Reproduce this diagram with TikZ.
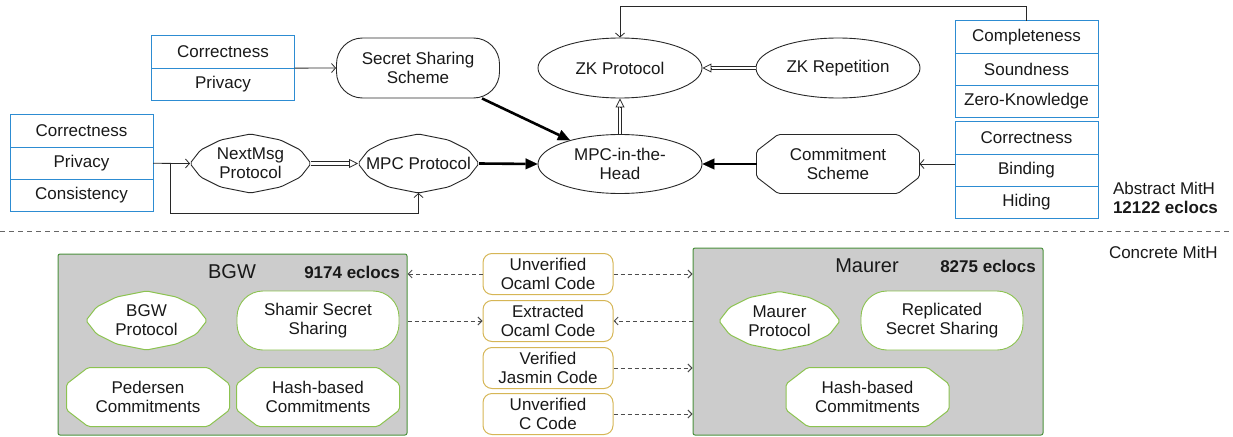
\documentclass[tikz,border=0pt]{standalone}
\usepackage{fontspec}
\setmainfont{Liberation Sans}
\usepackage{tikz}
\usetikzlibrary{arrows.meta}
\usetikzlibrary{shapes.geometric}
\usetikzlibrary{positioning}

\definecolor{propblue}{RGB}{45,140,210}
\definecolor{boxgreen}{RGB}{75,145,60}
\definecolor{leafgreen}{RGB}{140,195,80}
\definecolor{codegold}{RGB}{214,182,86}
\definecolor{boxgray}{RGB}{204,204,204}
\definecolor{inkgray}{RGB}{40,40,40}

\tikzset{
  prop/.style={draw=propblue, line width=1pt, minimum width=143pt, minimum height=32.3pt, inner sep=0pt, outer sep=0pt},
  ell/.style={ellipse, draw=inkgray, line width=0.9pt, minimum width=164pt, minimum height=60pt, inner sep=0pt, align=center},
  stad/.style={draw=inkgray, fill=white, line width=0.9pt, rounded corners=26pt, minimum width=163pt, minimum height=60pt, inner sep=0pt, align=center},
  plain/.style={inner sep=0pt, outer sep=0pt, align=center},
  darkline/.style={draw=inkgray, fill=white, line width=0.9pt, rounded corners=2pt},
  leafline/.style={draw=leafgreen, fill=white, line width=1pt, rounded corners=2pt},
  codebox/.style={draw=codegold, fill=white, line width=1pt, rounded corners=9pt, minimum width=130pt, minimum height=41pt, inner sep=0pt, align=center},
  implbox/.style={draw=boxgreen, fill=boxgray, line width=1pt, rounded corners=2pt, inner sep=0pt},
  implname/.style={plain, font=\fontsize{20}{22}\selectfont},
  locs/.style={plain, font=\fontsize{17}{19}\selectfont\bfseries},
  arr/.style={draw=inkgray, line width=0.8pt, -{Straight Barb[length=4pt,width=9pt]}},
  heavy/.style={draw=black, line width=2.6pt, -{Triangle[length=12pt,width=11pt,line width=0.1pt]}},
  dbl/.style={draw=inkgray, double, double distance=2.4pt, line width=0.9pt, shorten >=8.5pt},
  opentip/.style={draw=inkgray, line width=0.8pt, -{Triangle[open,length=9pt,width=9pt]}},
  dasharr/.style={draw=black!70, line width=0.9pt, dash pattern=on 4pt off 3pt, -{Straight Barb[length=4pt,width=8pt]}},
}

% diamond-like and chamfered outlines, drawn before the (invisible) node
\newcommand{\dianode}[4][darkline]{%
  \filldraw[#1, shift={(#3)}] (-60.5,0) -- (-50,-13.5) -- (-30,-23.5) -- (0,-29.5) -- (30,-23.5) -- (50,-13.5) -- (60.5,0)
     -- (50,13.5) -- (30,23.5) -- (0,29.5) -- (-30,23.5) -- (-50,13.5) -- cycle;
  \node[plain, minimum width=121pt, minimum height=59pt] (#2) at (#3) {#4};}
\newcommand{\octnode}[4][darkline]{%
  \filldraw[#1, shift={(#3)}] (-81.5,-13) -- (-60,-29.5) -- (60,-29.5) -- (81.5,-13) -- (81.5,13) -- (60,29.5) -- (-60,29.5) -- (-81.5,13) -- cycle;
  \node[plain, minimum width=163pt, minimum height=59pt] (#2) at (#3) {#4};}

\begin{document}
\begin{tikzpicture}[x=1pt, y=-1pt, font=\fontsize{17}{19}\selectfont, every node/.style={text=black!90}]
    \useasboundingbox (0,0) rectangle (1233,436);

    % abstract part
    \node[prop] (sscor) at (223,52) {Correctness};
    \node[prop, below=0pt of sscor] (sspriv) {Privacy};
    \node[stad] (sss) at (418,68) {Secret Sharing\\Scheme};

    \node[prop] (mcor) at (81.5,131) {Correctness};
    \node[prop, below=0pt of mcor] (mpriv) {Privacy};
    \node[prop, below=0pt of mpriv] (mcons) {Consistency};
    \dianode{nextmsg}{250.5,163.5}{NextMsg\\Protocol}
    \dianode{mpcp}{418.5,163.5}{MPC Protocol}

    \node[ell] (zkp) at (620,68) {ZK Protocol};
    \node[ell] (zkrep) at (838,68) {ZK Repetition};
    \node[ell, minimum height=59pt] (mpcith) at (620,164) {MPC-in-the-\\Head};
    \octnode{commit}{838,164}{Commitment\\Scheme}

    \node[prop] (zkcomp) at (1026.5,37) {Completeness};
    \node[prop, below=0pt of zkcomp] (zksound) {Soundness};
    \node[prop, below=0pt of zksound] (zkzero) {Zero-Knowledge};
    \node[prop] (cmcor) at (1026.5,138) {Correctness};
    \node[prop, below=0pt of cmcor] (cmbind) {Binding};
    \node[prop, below=0pt of cmbind] (cmhid) {Hiding};

    \node[plain, anchor=west, align=left] (abstract) at (1113,198) {Abstract MitH\\\textbf{12122 eclocs}};

    \coordinate (split) at (170,163.5);
    \draw[arr] (sscor.south east) -- (sss.west);
    \draw[arr] (mpriv.east) -- (nextmsg.west);
    \draw[arr] (split) |- ([yshift=-20pt]mpcp.south) -- (mpcp.south);
    \draw[dbl] (nextmsg.east) -- (mpcp.west);
    \draw[opentip] ([xshift=-9pt]mpcp.west) -- (mpcp.west);
    \draw[heavy] (mpcp.east) -- (mpcith.west);
    \draw[heavy] (sss) -- (mpcith);
    \draw[heavy] (commit.west) -- (mpcith.east);
    \draw[arr] (commit.east -| cmbind.west) -- (commit.east);
    \draw[dbl] (zkrep.west) -- (zkp.east);
    \draw[opentip] ([xshift=9pt]zkp.east) -- (zkp.east);
    \draw[dbl] (mpcith.north) -- (zkp.south);
    \draw[opentip] ([yshift=-9pt]zkp.south) -- (zkp.south);
    \draw[arr] (zkcomp.north) -- ++(0,-14) -| (zkp.north);

    \draw[black!60, line width=1pt, dash pattern=on 5pt off 4pt] (0,231) -- (1233,231);

    % concrete part
    \node[plain, anchor=west] (concrete) at (1109,252) {Concrete MitH};

    \node[implbox, minimum width=349pt, minimum height=181pt] (bgw) at (232.5,344.5) {};
    \node[implname] (bgwname) at (232,272) {BGW};
    \node[locs] (bgwloc) at (352,272) {9174 eclocs};
    \dianode[leafline]{bgwp}{146.5,320.5}{BGW\\Protocol}
    \node[stad, draw=leafgreen, minimum width=162pt, minimum height=59pt] (shamir) at (318,320.5) {Shamir Secret\\Sharing};
    \octnode[leafline]{pedersen}{148,397}{Pedersen\\Commitments}
    \octnode[leafline]{hashbgw}{318,397}{Hash-based\\Commitments}

    \node[implbox, minimum width=350pt, minimum height=187pt] (maurer) at (868,341.5) {};
    \node[implname] (maurername) at (867,266) {Maurer};
    \node[locs] (maurerloc) at (988,266) {8275 eclocs};
    \dianode[leafline]{maurerp}{779.5,321}{Maurer\\Protocol}
    \node[stad, draw=leafgreen, minimum width=162pt, minimum height=59pt] (replic) at (942,320.5) {Replicated\\Secret Sharing};
    \octnode[leafline]{hashm}{867.5,397}{Hash-based\\Commitments}

    \node[codebox] (uocaml) at (548,274) {Unverified\\Ocaml Code};
    \node[codebox] (eocaml) at (548,321) {Extracted\\Ocaml Code};
    \node[codebox] (jasmin) at (548,368) {Verified\\Jasmin Code};
    \node[codebox] (ccode) at (548,414) {Unverified\\C Code};

    \draw[dasharr] (uocaml.west) -- (uocaml.west -| bgw.east);
    \draw[dasharr] (uocaml.east) -- (uocaml.east -| maurer.west);
    \draw[dasharr] (eocaml.west -| bgw.east) -- (eocaml.west);
    \draw[dasharr] (eocaml.east -| maurer.west) -- (eocaml.east);
    \draw[dasharr] (jasmin.east) -- (jasmin.east -| maurer.west);
    \draw[dasharr] (ccode.east) -- (ccode.east -| maurer.west);
\end{tikzpicture}
\end{document}
